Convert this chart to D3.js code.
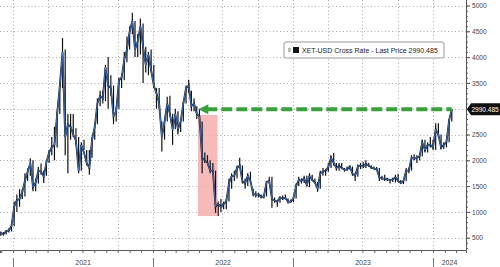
<!DOCTYPE html>
<html>
<head>
<meta charset="utf-8">
<script src="https://cdn.jsdelivr.net/npm/d3@7"></script>
<style>
  html, body { margin: 0; padding: 0; background: #fff; }
  svg { display: block; font-family: "Liberation Sans", Arial, sans-serif; }
</style>
</head>
<body>
<div id="chart"></div>
<script>
// weekly bars, first week starts 2020-11-30
var firstWeek = new Date(2020, 10, 30);

var weeklyLow = [
  540, 540, 560, 600, 620, 720, 1000, 1100, 1250, 1300,
  1600, 1700, 1400, 1400, 1550, 1720, 1560, 1700, 1950, 2100,
  2000, 2250, 2900, 3400, 2100, 1750, 2400, 2450, 2300, 1750,
  1800, 2200, 1900, 1720, 2050, 2400, 2700, 3050, 3100, 3150,
  3000, 3250, 2700, 2750, 3000, 3400, 3550, 3900, 4150, 4450,
  4000, 4000, 4050, 3500, 3700, 3650, 3700, 3400, 3000, 3000,
  2170, 2400, 2750, 2850, 2300, 2600, 2500, 2550, 2750, 3100,
  3300, 2950, 2950, 2800, 2700, 1750, 1950, 1950, 1750, 1750,
  980, 920, 1000, 1050, 1050, 1200, 1450, 1600, 1650, 1850,
  1550, 1450, 1500, 1550, 1300, 1280, 1280, 1260, 1260, 1300,
  1550, 1080, 1180, 1100, 1180, 1230, 1240, 1160, 1180, 1190,
  1260, 1500, 1550, 1560, 1500, 1480, 1600, 1550, 1390, 1450,
  1700, 1700, 1780, 1850, 1900, 1800, 1800, 1830, 1780, 1800,
  1820, 1700, 1600, 1680, 1830, 1850, 1850, 1880, 1830, 1820,
  1810, 1600, 1620, 1600, 1600, 1550, 1580, 1570, 1580, 1560,
  1540, 1600, 1750, 1800, 2000, 1950, 2000, 2080, 2150, 2150,
  2250, 2200, 2200, 2450, 2210, 2220, 2250, 2350, 2750
];

var weeklyHigh = [
  620, 610, 650, 680, 760, 1200, 1340, 1440, 1440, 1750,
  1840, 2040, 2000, 1650, 1870, 1940, 1800, 2000, 2200, 2450,
  2650, 2950, 3500, 4370, 4150, 2900, 2900, 2900, 2620, 2450,
  2350, 2400, 2200, 2200, 2450, 2700, 3200, 3350, 3350, 3850,
  4000, 3650, 3450, 3050, 3600, 3650, 4100, 4400, 4600, 4860,
  4700, 4450, 4750, 4650, 4200, 4100, 4150, 3850, 3400, 3400,
  2750, 2800, 3230, 3250, 2900, 3000, 2950, 2800, 3150, 3450,
  3560, 3350, 3200, 3050, 3000, 2750, 2150, 2100, 2000, 1950,
  1800, 1200, 1250, 1200, 1250, 1650, 1750, 1800, 1900, 2050,
  1900, 1650, 1750, 1780, 1450, 1400, 1370, 1340, 1340, 1600,
  1680, 1680, 1280, 1220, 1300, 1320, 1340, 1260, 1240, 1280,
  1550, 1680, 1650, 1700, 1700, 1750, 1720, 1650, 1580, 1800,
  1850, 1830, 1950, 2100, 2140, 1950, 1950, 1950, 1850, 1880,
  1900, 1880, 1760, 1920, 1950, 1970, 2000, 1950, 1900, 1880,
  1870, 1850, 1700, 1720, 1660, 1640, 1660, 1720, 1740, 1620,
  1620, 1850, 1860, 2100, 2120, 2100, 2100, 2400, 2400, 2350,
  2450, 2400, 2720, 2720, 2500, 2350, 2400, 2800, 2990.485
];

var weeklyClose = [
  590, 570, 630, 640, 730, 1100, 1230, 1250, 1380, 1600,
  1780, 1950, 1480, 1570, 1800, 1780, 1680, 1960, 2150, 2250,
  2300, 2900, 3450, 4100, 2450, 2700, 2650, 2500, 2380, 1800,
  2300, 2150, 1950, 1850, 2400, 2650, 3100, 3250, 3200, 3800,
  3450, 3400, 2850, 2950, 3550, 3600, 3950, 4150, 4500, 4700,
  4150, 4300, 4600, 4200, 3850, 4050, 3750, 3450, 3300, 3100,
  2450, 2750, 3100, 2900, 2600, 2900, 2600, 2750, 3100, 3400,
  3450, 3050, 3100, 2900, 2850, 2050, 2000, 1950, 1800, 1800,
  1100, 1150, 1100, 1150, 1200, 1550, 1700, 1700, 1850, 1900,
  1600, 1550, 1700, 1600, 1350, 1330, 1340, 1290, 1300, 1580,
  1600, 1250, 1220, 1200, 1280, 1260, 1270, 1200, 1200, 1260,
  1500, 1620, 1600, 1650, 1520, 1700, 1620, 1570, 1450, 1750,
  1780, 1800, 1870, 2050, 1950, 1850, 1900, 1850, 1820, 1820,
  1880, 1740, 1700, 1880, 1900, 1880, 1930, 1900, 1860, 1840,
  1830, 1670, 1650, 1640, 1630, 1620, 1630, 1670, 1600, 1560,
  1600, 1800, 1800, 2050, 2030, 2050, 2080, 2350, 2200, 2300,
  2300, 2250, 2600, 2500, 2250, 2300, 2350, 2780, 2990.485
];

var priceTicks = [500, 1000, 1500, 2000, 2500, 3000, 3500, 4000, 4500, 5000];
var yearLabels = ["2021", "2022", "2023", "2024"];
var legendLabel = "XET-USD Cross Rate - Last Price 2990.485";
var lastPrice = 2990.485;

// highlighted crash window and the "back to" arrow
var crashStart = new Date(2022, 3, 28), crashEnd = new Date(2022, 5, 18);
var crashTop = 2880, crashBottom = 920;
var arrowFrom = new Date(2024, 1, 19), arrowTo = new Date(2022, 3, 29);

var width = 500, height = 267;
var plotW = 466, plotH = 250;

var svg = d3.select("#chart").append("svg")
    .attr("width", width)
    .attr("height", height);

var x = d3.scaleTime()
    .domain([new Date(2020, 10, 28), new Date(2024, 2, 27)])
    .range([0, plotW]);

var y = d3.scaleLinear()
    .domain([262, 5107])
    .range([plotH, 0]);

var bars = weeklyClose.map(function(c, i) {
    return {
        date: d3.timeDay.offset(firstWeek, 7 * i),
        low: weeklyLow[i],
        high: weeklyHigh[i],
        close: c
    };
});

// grid
var grid = svg.append("g")
    .attr("stroke", "#aaa")
    .attr("stroke-width", 1)
    .attr("stroke-dasharray", "1,2.5");

grid.selectAll("line.h")
    .data(priceTicks)
    .join("line")
    .attr("class", "h")
    .attr("x1", 0).attr("x2", plotW)
    .attr("y1", d => Math.round(y(d)) + 0.5)
    .attr("y2", d => Math.round(y(d)) + 0.5);

var quarters = d3.timeMonth.every(3).range(new Date(2021, 0, 1), new Date(2024, 1, 1));
grid.selectAll("line.v")
    .data(quarters)
    .join("line")
    .attr("class", "v")
    .attr("y1", 0).attr("y2", plotH)
    .attr("x1", d => Math.round(x(d)) + 0.5)
    .attr("x2", d => Math.round(x(d)) + 0.5);

// pink crash box
svg.append("rect")
    .attr("x", x(crashStart))
    .attr("width", x(crashEnd) - x(crashStart))
    .attr("y", y(crashTop))
    .attr("height", y(crashBottom) - y(crashTop))
    .attr("fill", "#f5a9a9")
    .attr("opacity", 0.8);

// price series: black high-low bars, black + blue close line
svg.append("g")
    .attr("stroke", "#111")
    .attr("stroke-width", 1.2)
    .selectAll("line")
    .data(bars)
    .join("line")
    .attr("x1", d => x(d.date)).attr("x2", d => x(d.date))
    .attr("y1", d => y(d.low)).attr("y2", d => y(d.high));

var line = d3.line()
    .x(d => x(d.date))
    .y(d => y(d.close));

svg.append("path")
    .datum(bars)
    .attr("fill", "none")
    .attr("stroke", "#101a30")
    .attr("stroke-width", 1.8)
    .attr("d", line);

svg.append("path")
    .datum(bars)
    .attr("fill", "none")
    .attr("stroke", "#4a86d8")
    .attr("stroke-width", 0.8)
    .attr("d", line);

// green dashed arrow
var ay = y(lastPrice);
svg.append("line")
    .attr("x1", x(arrowTo) + 8).attr("x2", x(arrowFrom))
    .attr("y1", ay).attr("y2", ay)
    .attr("stroke", "#3aa13a")
    .attr("stroke-width", 4)
    .attr("stroke-dasharray", "11,4");
svg.append("path")
    .attr("d", "M" + x(arrowTo) + "," + ay +
        "L" + (x(arrowTo) + 10) + "," + (ay - 5) +
        "L" + (x(arrowTo) + 10) + "," + (ay + 5) + "Z")
    .attr("fill", "#3aa13a");

// right axis (3000 label is hidden behind the last price tag)
var yAxis = svg.append("g")
    .attr("transform", "translate(" + plotW + ",0)")
    .call(d3.axisRight(y).tickValues(priceTicks).tickSize(4).tickPadding(2)
        .tickFormat(d => d === 3000 ? "" : d3.format("d")(d)));
yAxis.select(".domain").remove();
yAxis.selectAll("line").attr("stroke", "#444");
yAxis.selectAll("text")
    .attr("fill", "#444")
    .style("font-size", "6.6px");

svg.append("g")
    .attr("transform", "translate(" + plotW + ",0)")
    .call(d3.axisRight(y).tickValues(d3.range(300, 5100, 100)).tickSize(2).tickFormat(""))
    .call(g => g.select(".domain").remove())
    .selectAll("line").attr("stroke", "#666");

svg.append("line")
    .attr("x1", plotW + 0.5).attr("x2", plotW + 0.5)
    .attr("y1", 0).attr("y2", plotH)
    .attr("stroke", "#555");

// bottom axis
var xAxis = svg.append("g")
    .attr("transform", "translate(0," + plotH + ")")
    .call(d3.axisBottom(x).ticks(d3.timeMonth.every(1)).tickSize(3).tickFormat(""));
xAxis.select(".domain").attr("stroke", "#555");
xAxis.selectAll("line").attr("stroke", "#666");

var years = yearLabels.map(function(t) { return new Date(+t, 0, 1); });
svg.append("g")
    .selectAll("line")
    .data(years)
    .join("line")
    .attr("x1", d => Math.round(x(d)) + 0.5).attr("x2", d => Math.round(x(d)) + 0.5)
    .attr("y1", plotH + 8).attr("y2", height)
    .attr("stroke", "#777");

svg.append("g")
    .selectAll("text")
    .data(years)
    .join("text")
    .attr("x", d => (x(d) + Math.min(plotW, x(d3.timeYear.offset(d, 1)))) / 2)
    .attr("y", 265)
    .attr("text-anchor", "middle")
    .attr("fill", "#444")
    .style("font-size", "7px")
    .text((d, i) => yearLabels[i]);

// last price tag
var tag = svg.append("g").attr("transform", "translate(" + (plotW + 1) + "," + ay + ")");
tag.append("path")
    .attr("d", "M0,0L4,-6H33V6H4Z")
    .attr("fill", "#111");
tag.append("text")
    .attr("x", 4.5).attr("y", 2.4)
    .attr("fill", "#fff")
    .style("font-size", "6.5px")
    .text(d3.format(".3f")(lastPrice));

// legend
var legend = svg.append("g").attr("transform", "translate(284,42)");
legend.append("rect")
    .attr("width", 160).attr("height", 16)
    .attr("rx", 2)
    .attr("fill", "#fff")
    .attr("stroke", "#999");
legend.append("rect")
    .attr("x", 4).attr("y", 6).attr("width", 3).attr("height", 4)
    .attr("fill", "#bbb");
legend.append("rect")
    .attr("x", 9).attr("y", 5).attr("width", 6).attr("height", 6)
    .attr("fill", "#111");
legend.append("text")
    .attr("x", 18).attr("y", 10.5)
    .attr("fill", "#222")
    .style("font-size", "7px")
    .text(legendLabel);
</script>
</body>
</html>
